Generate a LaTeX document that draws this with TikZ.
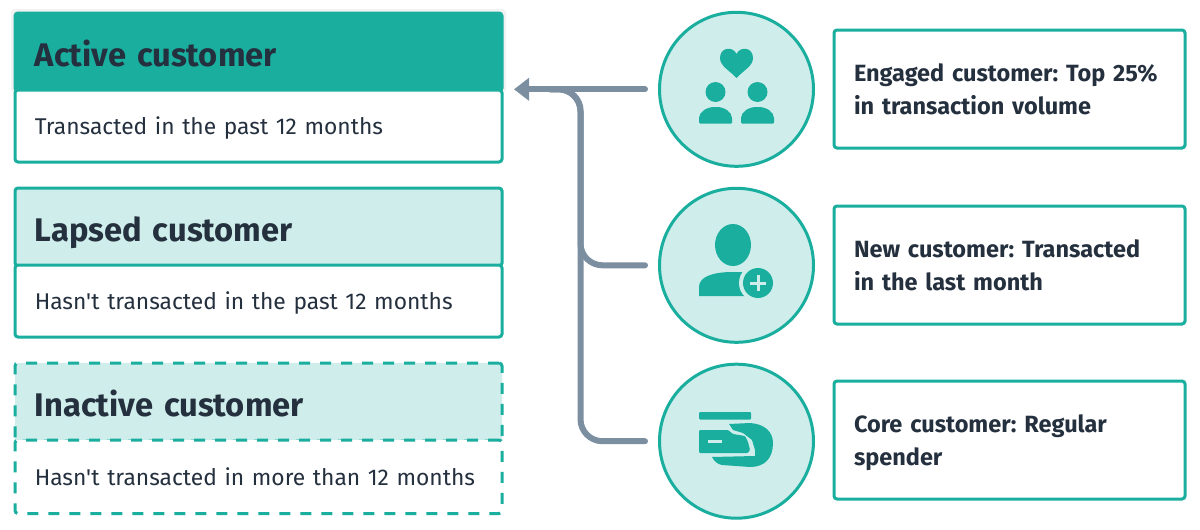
\documentclass[tikz,border=0pt]{standalone}
\usepackage{fontspec}
\setmainfont{Fira Sans}[Ligatures=TeXOff]
\usetikzlibrary{arrows.meta,calc,positioning}
\definecolor{Teal}{HTML}{1AAE9F}
\definecolor{TealSoft}{HTML}{CFEEEB}
\definecolor{Ink}{HTML}{25303F}
\definecolor{LinkGray}{HTML}{7C8FA0}
\begin{document}
\frenchspacing
\begin{tikzpicture}[x=1pt,y=-1pt,every node/.style={text=Ink,outer sep=0pt},head/.style={anchor=north west,draw=Teal,line width=3pt,rounded corners=3pt,text width=447.5pt,inner xsep=19.75pt,minimum height=78pt,text height=30pt,text depth=2pt,align=left,font=\fontsize{32.7}{38}\selectfont\bfseries},headsoft/.style={head,fill=TealSoft},note/.style={anchor=north west,draw=Teal,line width=3pt,rounded corners=3pt,fill=white,text width=447.5pt,inner xsep=19.75pt,minimum height=72pt,text height=18pt,text depth=1pt,align=left,font=\fontsize{22.8}{28}\selectfont},ghost/.style={dash pattern=on 11pt off 10pt},badge/.style={circle,draw=Teal,fill=TealSoft,line width=3pt,minimum size=154pt,inner sep=0pt},card/.style={anchor=north west,draw=Teal,line width=3pt,rounded corners=3pt,text width=311pt,inner xsep=20pt,minimum height=118pt,align=left,font=\fontsize{23.5}{33}\selectfont\bfseries},link/.style={draw=LinkGray,line width=6pt,line cap=round},glyph/.style={fill=Teal,draw=none}]
\useasboundingbox (0,0) rectangle (1200,530);
\fill[white] (0,0) rectangle (1200,530);
\fill[black!5,rounded corners=4pt] (11,9) rectangle (506,93);
% left column
\node[head,fill=Teal] (active) at (15,13) {Active customer};
\node[note] (activeNote) at (15,90) {Transacted in the past 12 months};
\node[headsoft] (lapsed) at (15,188) {Lapsed customer};
\node[note] (lapsedNote) at (15,265) {Hasn't transacted in the past 12 months};
\node[headsoft,ghost] (inactive) at (15,363) {Inactive customer};
\node[note,ghost,minimum height=73.5pt] (inactiveNote) at (15,440) {Hasn't transacted in more than 12 months};
% right column
\node[badge] (engagedIcon) at (736.5,89.3) {};
\node[badge] (newIcon) at (736.5,265.3) {};
\node[badge] (coreIcon) at (736.5,441.2) {};
\node[card] (engaged) at (834,30) {Engaged customer: Top 25\%\\in transaction volume};
\node[card] (newcust) at (834,206) {New customer: Transacted\\in the last month};
\node[card] (core) at (834,381) {Core customer: Regular\\\smash{spender}};
% connectors
\coordinate (arrowEnd) at (514,89.3); \coordinate (joinPt) at (550,89.3); \coordinate (trunkTop) at (580.5,89.3);
\draw[link,rounded corners=22pt] ([xshift=-14.5pt]coreIcon.west) -| (trunkTop) -- (joinPt);
\draw[link,rounded corners=22pt] ([xshift=-14.5pt]newIcon.west) -| (trunkTop) -- (joinPt);
\draw[link,-{Triangle[length=15pt,width=22pt]}] ([xshift=-14.5pt]engagedIcon.west) -- (arrowEnd);
% engaged icon
\fill[glyph] (736.5,78) .. controls (729,70) and (720,66) .. (720,58) .. controls (720,47) and (733,46) .. (736.5,54) .. controls (740,46) and (753,47) .. (753,58) .. controls (753,66) and (744,70) .. (736.5,78) -- cycle;
\foreach \x in {715.5,757.5}{\fill[glyph] (\x,92) circle (10); \fill[glyph,rounded corners=1pt] (\x-16.5,123.5) -- (\x-16.5,119) .. controls (\x-16.5,112) and (\x-9,107) .. (\x,107) .. controls (\x+9,107) and (\x+16.5,112) .. (\x+16.5,119) -- (\x+16.5,123.5) -- cycle;}
% new icon
\fill[glyph] (733,245) ellipse (18 and 21);
\fill[glyph] (699,296) -- (699,287) .. controls (699,277) and (712,272) .. (733,272) -- (752,272) -- (752,296) -- cycle;
\fill[TealSoft] (758,283) circle (19);
\fill[glyph] (758,283) circle (15);
\draw[TealSoft,line width=3pt] (750,283) -- (766,283) (758,275) -- (758,291);
% core icon
\fill[glyph,rounded corners=1pt] (699,412) rectangle (751,419.5);
\fill[glyph,rounded corners=1pt] (699,430) -- (728,430) -- (733,434) -- (745,436) -- (748,442) -- (750,450) -- (748,453) -- (699,453) -- cycle;
\fill[glyph] (729,424) -- (750,423) .. controls (765,424) and (773,432) .. (773,443) .. controls (773,458) and (765,467) .. (750,467) -- (722,465) .. controls (717,464) and (714,461) .. (712,457) -- (755,456) -- (755,450) -- (752,440) -- (743,433) -- (733,430) -- cycle;
\draw[TealSoft,line width=2.5pt] (708,441.5) -- (722,441.5);
\end{tikzpicture}
\end{document}
